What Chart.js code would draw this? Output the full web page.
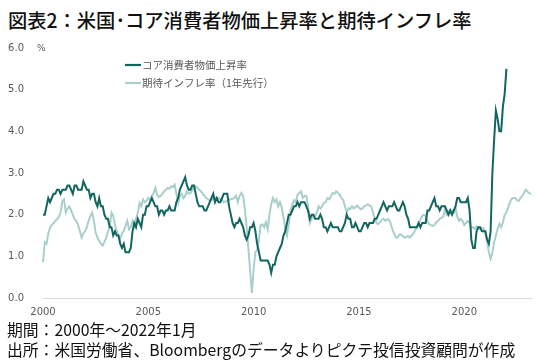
<!DOCTYPE html>
<html>
<head>
<meta charset="utf-8">
<script src="https://cdn.jsdelivr.net/npm/chart.js@4/dist/chart.umd.min.js"></script>
<style>
  html, body { margin: 0; padding: 0; background: #fff; }
  body { width: 550px; height: 362px; position: relative; overflow: hidden; font-family: "Noto Sans CJK JP", sans-serif; }
  #title { position: absolute; left: 8px; top: 10px; font-size: 19.3px; line-height: 20px; font-weight: 500; color: #111; white-space: nowrap; }
  .foot { position: absolute; left: 7px; font-size: 15.8px; line-height: 16px; color: #111; white-space: nowrap; }
  #f1 { top: 322px; }
  #f2 { top: 342px; }
  #wrap { position: absolute; left: 0; top: 31px; width: 550px; height: 289px; }
</style>
</head>
<body>
<div id="title">図表2：米国･コア消費者物価上昇率と期待インフレ率</div>
<div id="wrap"><canvas id="c" width="550" height="289" style="width:550px;height:289px"></canvas></div>
<div class="foot" id="f1">期間：2000年～2022年1月</div>
<div class="foot" id="f2">出所：米国労働省、Bloombergのデータよりピクテ投信投資顧問が作成</div>
<script>
// ---- data ----
const startYear = 2000;
const monthCount = 279; // Jan 2000 .. Mar 2023 (monthly)
const tickYears = ['2000', '2005', '2010', '2015', '2020'];
const yTicks = [0, 1, 2, 3, 4, 5, 6];
const seriesNames = ['コア消費者物価上昇率', '期待インフレ率（1年先行）'];

// Core CPI YoY (%), monthly
const coreCPI = [2.0,
  2.0, 2.2, 2.4, 2.3, 2.4, 2.5, 2.5, 2.6, 2.6, 2.5, 2.6, 2.6,
  2.6, 2.7, 2.7, 2.6, 2.5, 2.7, 2.7, 2.6, 2.6, 2.6, 2.8, 2.7,
  2.6, 2.6, 2.4, 2.5, 2.5, 2.3, 2.2, 2.4, 2.2, 2.2, 2.0, 1.9,
  1.9, 1.7, 1.7, 1.5, 1.6, 1.5, 1.5, 1.3, 1.2, 1.3, 1.1, 1.1,
  1.1, 1.2, 1.6, 1.8, 1.7, 1.9, 1.8, 1.7, 2.0, 2.0, 2.2, 2.2,
  2.3, 2.4, 2.3, 2.2, 2.2, 2.0, 2.1, 2.1, 2.0, 2.1, 2.1, 2.2,
  2.1, 2.1, 2.1, 2.3, 2.4, 2.6, 2.7, 2.8, 2.9, 2.7, 2.6, 2.6,
  2.7, 2.7, 2.5, 2.3, 2.2, 2.2, 2.2, 2.1, 2.1, 2.2, 2.3, 2.4,
  2.5, 2.3, 2.4, 2.3, 2.3, 2.4, 2.5, 2.5, 2.5, 2.2, 2.0, 1.8,
  1.7, 1.8, 1.8, 1.9, 1.8, 1.7, 1.5, 1.4, 1.5, 1.7, 1.7, 1.8,
  1.6, 1.3, 1.1, 0.9, 0.9, 0.9, 0.9, 0.9, 0.8, 0.6, 0.8, 0.8,
  1.0, 1.1, 1.2, 1.3, 1.5, 1.6, 1.8, 2.0, 2.0, 2.1, 2.2, 2.2,
  2.3, 2.2, 2.3, 2.3, 2.3, 2.2, 2.1, 1.9, 2.0, 2.0, 1.9, 1.9,
  1.9, 2.0, 1.9, 1.7, 1.7, 1.6, 1.7, 1.8, 1.7, 1.7, 1.7, 1.7,
  1.6, 1.6, 1.7, 1.8, 2.0, 1.9, 1.9, 1.7, 1.7, 1.8, 1.7, 1.6,
  1.6, 1.7, 1.8, 1.8, 1.7, 1.8, 1.8, 1.8, 1.9, 1.9, 2.0, 2.1,
  2.2, 2.3, 2.2, 2.1, 2.2, 2.2, 2.2, 2.3, 2.2, 2.1, 2.1, 2.2,
  2.3, 2.2, 2.0, 1.9, 1.7, 1.7, 1.7, 1.7, 1.7, 1.8, 1.7, 1.8,
  1.8, 1.8, 2.1, 2.1, 2.2, 2.3, 2.4, 2.2, 2.2, 2.1, 2.2, 2.2,
  2.2, 2.1, 2.0, 2.1, 2.0, 2.1, 2.2, 2.4, 2.4, 2.3, 2.3, 2.3,
  2.3, 2.4, 2.1, 1.4, 1.2, 1.2, 1.6, 1.7, 1.7, 1.6, 1.6, 1.6,
  1.4, 1.3, 1.6, 3.0, 3.8, 4.5, 4.3, 4.0, 4.0, 4.6, 4.9, 5.5
];

// Expected inflation (1 year ahead, %), monthly
const expInfl = [
  0.86, 1.34, 1.30, 1.55, 1.69, 1.75, 1.80, 1.85, 1.89, 1.95, 2.05, 2.32,
  2.36, 2.05, 2.15, 2.20, 2.10, 2.00, 1.89, 1.85, 1.75, 1.60, 1.45, 1.55,
  1.60, 1.70, 1.85, 1.97, 2.05, 1.85, 1.57, 1.45, 1.37, 1.30, 1.26, 1.35,
  1.45, 1.60, 1.69, 2.05, 1.97, 1.75, 1.61, 1.50, 1.42, 1.55, 1.61, 1.73,
  1.85, 1.65, 1.70, 1.85, 1.73, 1.90, 2.05, 2.28, 2.20, 2.36, 2.30, 2.33,
  2.40, 2.35, 2.45, 2.52, 2.64, 2.48, 2.42, 2.45, 2.50, 2.56, 2.60, 2.64,
  2.62, 2.68, 2.66, 2.72, 2.50, 2.28, 2.45, 2.50, 2.40, 2.45, 2.56, 2.50,
  2.52, 2.60, 2.64, 2.68, 2.64, 2.60, 2.56, 2.50, 2.45, 2.40, 2.37, 2.33,
  2.35, 2.37, 2.40, 2.38, 2.40, 2.37, 2.35, 2.30, 2.32, 2.33, 2.36, 2.37,
  2.38, 2.40, 2.45, 2.30, 2.45, 2.52, 2.45, 2.13, 1.70, 1.20, 0.65, 0.12,
  0.70, 1.10, 1.15, 1.40, 1.75, 1.77, 1.70, 1.82, 1.65, 2.00, 2.25, 2.40,
  2.30, 2.37, 2.20, 2.30, 2.17, 1.95, 1.65, 1.50, 1.77, 2.10, 2.25, 2.35,
  2.30, 2.48, 2.52, 2.56, 2.40, 2.45, 2.45, 2.20, 1.80, 1.90, 2.00, 1.97,
  2.05, 2.20, 2.15, 2.20, 2.28, 2.30, 2.40, 2.37, 2.44, 2.52, 2.50, 2.56,
  2.52, 2.48, 2.40, 2.35, 2.20, 2.05, 2.15, 2.13, 2.20, 2.15, 2.18, 2.22,
  2.17, 2.13, 2.15, 2.20, 2.22, 2.25, 2.22, 2.20, 2.05, 1.90, 1.80, 1.77,
  1.82, 1.88, 1.90, 1.85, 1.89, 1.88, 1.80, 1.65, 1.55, 1.45, 1.45, 1.52,
  1.53, 1.48, 1.45, 1.47, 1.49, 1.45, 1.50, 1.55, 1.62, 1.70, 1.80, 1.88,
  1.97, 2.00, 1.97, 1.85, 1.77, 1.75, 1.73, 1.75, 1.82, 1.85, 1.90, 1.92,
  1.95, 2.13, 2.00, 2.08, 2.13, 2.10, 2.05, 2.15, 1.95, 1.85, 1.90, 1.85,
  1.75, 1.80, 1.85, 1.80, 1.68, 1.70, 1.66, 1.72, 1.70, 1.65, 1.68, 1.66,
  1.55, 1.35, 1.10, 0.94, 1.10, 1.34, 1.50, 1.66, 1.78, 1.70, 1.82, 2.00,
  2.05, 2.17, 2.30, 2.38, 2.40, 2.40, 2.35, 2.33, 2.40, 2.45, 2.52, 2.60,
  2.55, 2.52, 2.49
];

// category labels (one per month)
const monthLabels = [];
for (let i = 0; i < monthCount; i++) {
  const y = startYear + Math.floor(i / 12);
  const m = (i % 12) + 1;
  monthLabels.push(y + '-' + (m < 10 ? '0' : '') + m);
}

const darkColor = '#13655f';
const lightColor = '#a9cfcc';
const tickColor = '#595959';

const legendPlugin = {
  id: 'insideLegend',
  afterDraw(chart) {
    const { ctx, chartArea } = chart;
    const x0 = chartArea.left + 82;
    const y0 = chartArea.top + 17;
    ctx.save();
    chart.data.datasets.forEach((ds, i) => {
      const y = y0 + i * 18;
      ctx.strokeStyle = ds.borderColor;
      ctx.lineWidth = 2.2;
      ctx.beginPath();
      ctx.moveTo(x0, y);
      ctx.lineTo(x0 + 16, y);
      ctx.stroke();
      ctx.fillStyle = tickColor;
      ctx.font = '10.5px "Noto Sans CJK JP"';
      ctx.textAlign = 'left';
      ctx.textBaseline = 'middle';
      ctx.fillText(ds.label, x0 + 17, y);
    });
    // unit label
    ctx.fillStyle = tickColor;
    ctx.font = '9px "DejaVu Sans"';
    ctx.textAlign = 'left';
    ctx.textBaseline = 'middle';
    ctx.fillText('%', chartArea.left - 6, chartArea.top + 1);
    ctx.restore();
  }
};

new Chart(document.getElementById('c'), {
  type: 'line',
  data: {
    labels: monthLabels,
    datasets: [
      { label: seriesNames[0], data: coreCPI, borderColor: darkColor, borderWidth: 2, pointRadius: 0, tension: 0, fill: false },
      { label: seriesNames[1], data: expInfl, borderColor: lightColor, borderWidth: 2, pointRadius: 0, tension: 0, fill: false }
    ]
  },
  options: {
    responsive: false,
    animation: false,
    devicePixelRatio: 1,
    layout: { padding: { left: 0, right: 19, top: 3, bottom: 0 } },
    plugins: { legend: { display: false }, tooltip: { enabled: false }, title: { display: false } },
    scales: {
      x: {
        type: 'category',
        grid: { display: false },
        border: { display: true, color: '#d9d9d9', width: 1 },
        ticks: {
          autoSkip: false, maxRotation: 0, minRotation: 0, padding: 0,
          color: tickColor, font: { family: 'DejaVu Sans', size: 10 },
          callback: function (v, i) {
            const lab = this.getLabelForValue(v);
            const yr = lab.slice(0, 4);
            return (lab.endsWith('-01') && tickYears.includes(yr)) ? yr : null;
          }
        },
        afterFit: (s) => { s.height = 22; }
      },
      y: {
        min: yTicks[0], max: yTicks[yTicks.length - 1],
        grid: { display: false },
        border: { display: false },
        afterBuildTicks: (s) => { s.ticks = yTicks.map(v => ({ value: v })); },
        ticks: {
          padding: 11, color: tickColor, font: { family: 'DejaVu Sans', size: 10 },
          callback: (v) => Number(v).toFixed(1)
        },
        afterFit: (s) => { s.width = 43; }
      }
    }
  },
  plugins: [legendPlugin]
});
</script>
</body>
</html>
